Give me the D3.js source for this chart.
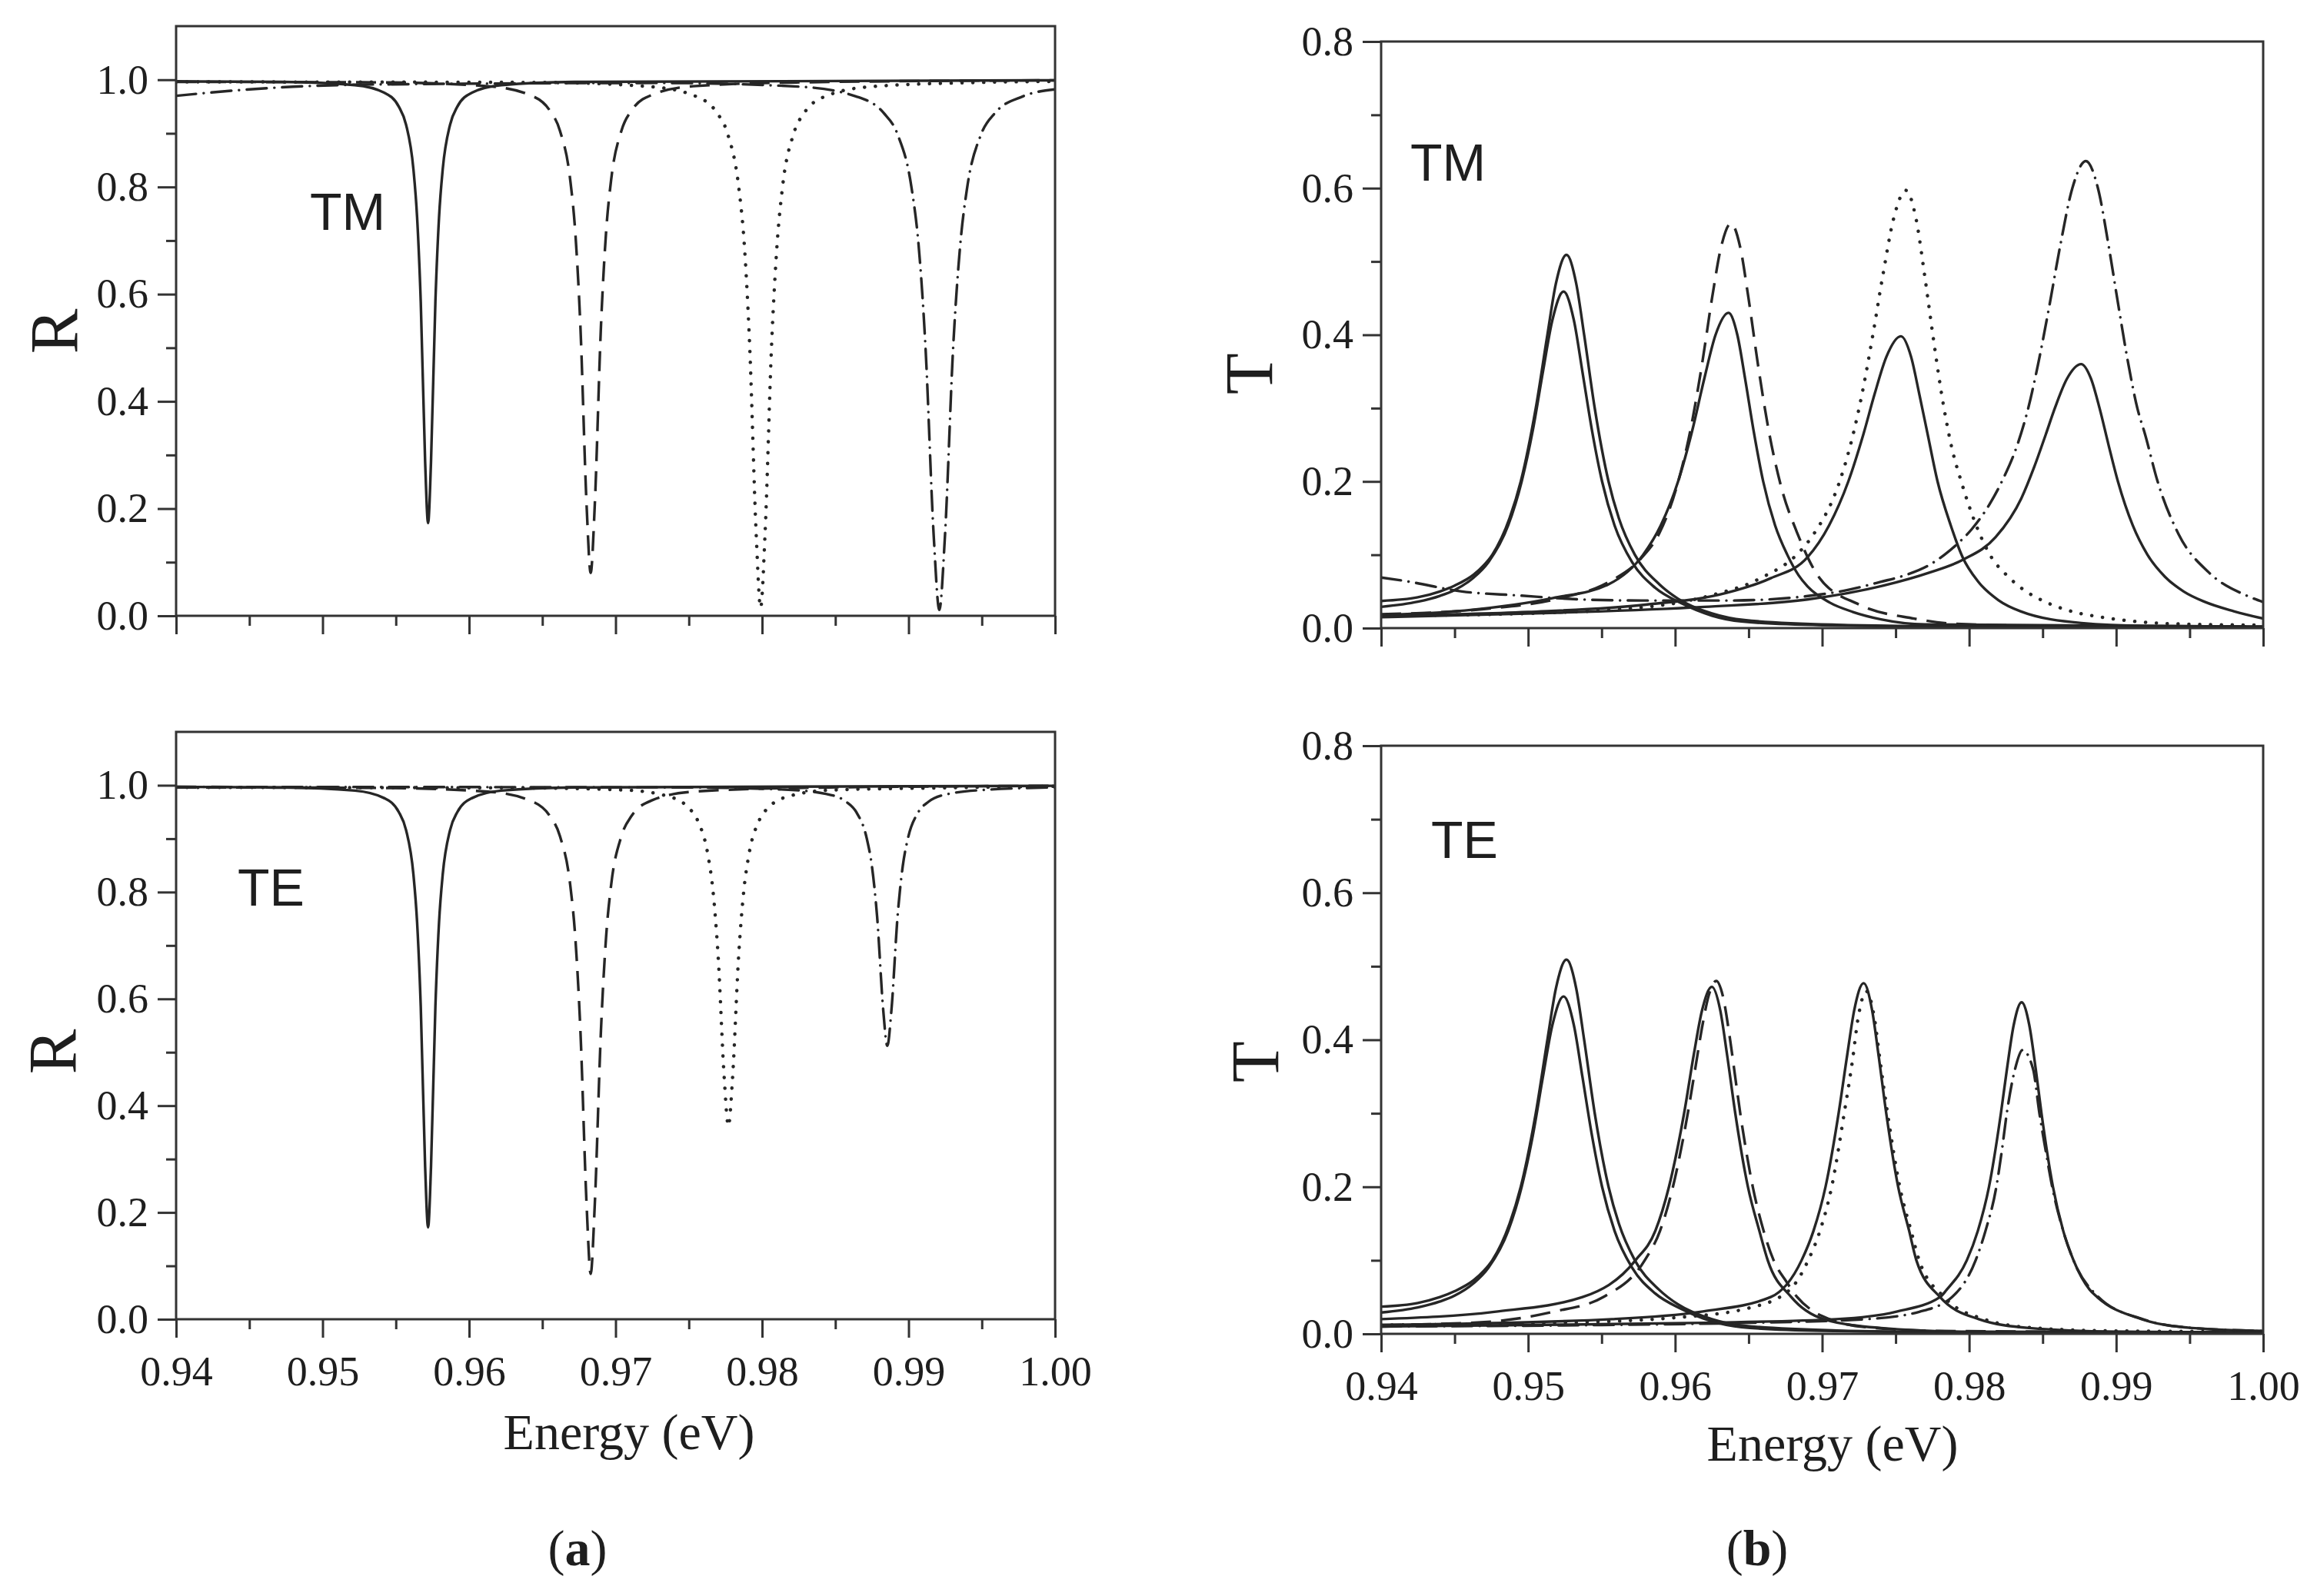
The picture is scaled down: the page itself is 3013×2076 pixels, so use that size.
<!DOCTYPE html>
<html>
<head>
<meta charset="utf-8">
<script src="https://cdnjs.cloudflare.com/ajax/libs/d3/7.8.5/d3.min.js"></script>
<style>
    body { margin: 0; background: #fff; }
    svg text { fill: #1e1e1e; }
</style>
</head>
<body>
<svg id="chart" width="3013" height="2076"></svg>
<script>
// ---- axis ticks ----
const energyTicks = [0.94, 0.95, 0.96, 0.97, 0.98, 0.99, 1.00];
const energyMinor = [0.945, 0.955, 0.965, 0.975, 0.985, 0.995];
const rTicks = [0, 0.2, 0.4, 0.6, 0.8, 1.0];
const rMinor = [0.1, 0.3, 0.5, 0.7, 0.9];
const tTicks = [0, 0.2, 0.4, 0.6, 0.8];
const tMinor = [0.1, 0.3, 0.5, 0.7];

// ---- (a) reflectance, TM ----  [energy eV, R]
const tmR_solid = [[0.940,0.997],[0.9472,0.996],[0.9522,0.990],[0.9542,0.976],[0.9552,0.950],[0.9557,0.916],[0.9562,0.833],[0.95645,0.744],[0.9567,0.586],[0.9570,0.287],[0.9572,0.173],[0.9574,0.287],[0.9577,0.586],[0.95795,0.744],[0.9582,0.833],[0.9587,0.916],[0.9592,0.950],[0.9602,0.976],[0.9622,0.990],[0.9672,0.996],[1.000,0.999]];
const tmR_dashed = [[0.940,0.996],[0.9543,0.995],[0.9613,0.988],[0.9641,0.972],[0.9655,0.943],[0.9662,0.905],[0.9669,0.814],[0.96725,0.715],[0.9676,0.539],[0.96802,0.207],[0.9683,0.080],[0.96858,0.207],[0.9690,0.539],[0.96935,0.715],[0.9697,0.814],[0.9704,0.905],[0.9711,0.943],[0.9725,0.972],[0.9753,0.988],[0.9823,0.995],[1.000,0.999]];
const tmR_dotted = [[0.940,0.996],[0.9649,0.995],[0.9724,0.987],[0.9754,0.970],[0.9769,0.939],[0.97765,0.899],[0.9784,0.801],[0.97878,0.695],[0.97915,0.506],[0.9796,0.151],[0.9799,0.015],[0.9802,0.151],[0.98065,0.506],[0.98103,0.695],[0.9814,0.801],[0.98215,0.899],[0.9829,0.939],[0.9844,0.970],[0.9874,0.987],[0.9949,0.995],[1.000,0.997]];
const tmR_dashdot = [[0.940,0.970],[0.944,0.980],[0.948,0.987],[0.953,0.991],[0.9731,0.994],[0.9826,0.987],[0.9864,0.969],[0.9883,0.938],[0.98925,0.898],[0.9902,0.799],[0.99068,0.693],[0.99115,0.504],[0.99172,0.147],[0.9921,0.011],[0.99248,0.147],[0.99305,0.504],[0.99353,0.693],[0.9940,0.799],[0.99495,0.898],[0.9959,0.938],[0.9978,0.969],[1.000,0.982]];

// ---- (a) reflectance, TE ----
const teR_solid = [[0.940,0.997],[0.9472,0.996],[0.9522,0.990],[0.9542,0.976],[0.9552,0.950],[0.9557,0.916],[0.9562,0.833],[0.95645,0.744],[0.9567,0.586],[0.9570,0.285],[0.9572,0.172],[0.9574,0.285],[0.9577,0.586],[0.95795,0.744],[0.9582,0.833],[0.9587,0.916],[0.9592,0.950],[0.9602,0.976],[0.9622,0.990],[0.9672,0.996],[1.000,0.999]];
const teR_dashed = [[0.940,0.996],[0.9543,0.995],[0.9613,0.988],[0.9641,0.972],[0.9655,0.943],[0.9662,0.905],[0.9669,0.814],[0.96725,0.715],[0.9676,0.540],[0.96802,0.215],[0.9683,0.085],[0.96858,0.215],[0.9690,0.540],[0.96935,0.715],[0.9697,0.814],[0.9704,0.905],[0.9711,0.943],[0.9725,0.972],[0.9753,0.988],[0.9823,0.995],[1.000,0.999]];
const teR_dotted = [[0.940,0.996],[0.9637,0.995],[0.9707,0.991],[0.9735,0.980],[0.9749,0.960],[0.9756,0.934],[0.9763,0.870],[0.97665,0.802],[0.9770,0.680],[0.97742,0.450],[0.9777,0.362],[0.97798,0.450],[0.9784,0.680],[0.97875,0.802],[0.9791,0.870],[0.9798,0.934],[0.9805,0.960],[0.9819,0.980],[0.9847,0.991],[0.9917,0.995],[1.000,0.998]];
const teR_dashdot = [[0.940,0.997],[0.97455,0.996],[0.98155,0.992],[0.98435,0.984],[0.98575,0.969],[0.98645,0.949],[0.98715,0.900],[0.9875,0.848],[0.98785,0.755],[0.98827,0.579],[0.98855,0.512],[0.98883,0.579],[0.98925,0.755],[0.9896,0.848],[0.98995,0.900],[0.99065,0.949],[0.99135,0.969],[0.99275,0.984],[0.99555,0.992],[1.000,0.996]];

// ---- (b) transmission, first resonance (same in TM and TE) ---- [energy eV, T]
const peak1_outer = [[0.9400,0.037],[0.9425,0.042],[0.9440,0.050],[0.9450,0.058],[0.9463,0.073],[0.9470,0.086],[0.94756,0.100],[0.94874,0.150],[0.9495,0.200],[0.95052,0.300],[0.95131,0.400],[0.95189,0.470],[0.95261,0.509],[0.95327,0.470],[0.95381,0.400],[0.95453,0.300],[0.95547,0.200],[0.95617,0.150],[0.95726,0.100],[0.95891,0.060],[0.9602,0.040],[0.9625,0.020],[0.9647,0.011],[0.9710,0.0045],[0.9800,0.002],[1.0000,0.001]];
const peak1_inner = [[0.9400,0.029],[0.9425,0.036],[0.9440,0.044],[0.9450,0.052],[0.9463,0.069],[0.9473,0.090],[0.94864,0.140],[0.94956,0.200],[0.95032,0.270],[0.95101,0.350],[0.95165,0.420],[0.95241,0.459],[0.95311,0.420],[0.95369,0.350],[0.95434,0.270],[0.95503,0.200],[0.95588,0.140],[0.95707,0.090],[0.95864,0.055],[0.96041,0.034],[0.9625,0.017],[0.9645,0.009],[0.9700,0.004],[0.9800,0.002],[1.0000,0.001]];

// ---- (b) transmission, TM ----
const tmT_dashed = [[0.9400,0.019],[0.9470,0.026],[0.9520,0.040],[0.9555,0.063],[0.95768,0.095],[0.95894,0.130],[0.96007,0.190],[0.96104,0.270],[0.96183,0.360],[0.96251,0.450],[0.96313,0.520],[0.9638,0.552],[0.96442,0.520],[0.96499,0.450],[0.96563,0.360],[0.96636,0.270],[0.96725,0.190],[0.9683,0.130],[0.9698,0.069],[0.97252,0.032],[0.97625,0.013],[0.97894,0.006],[0.9850,0.003],[1.0000,0.002]];
const tmT_solid2 = [[0.9400,0.018],[0.9457,0.024],[0.9517,0.041],[0.9555,0.060],[0.95782,0.100],[0.95902,0.140],[0.9602,0.200],[0.96117,0.270],[0.96198,0.340],[0.96275,0.400],[0.96363,0.430],[0.96423,0.400],[0.96476,0.340],[0.96533,0.270],[0.96599,0.200],[0.9668,0.140],[0.96763,0.100],[0.9684,0.072],[0.9690,0.057],[0.9705,0.035],[0.9721,0.022],[0.9740,0.012],[0.9770,0.005],[1.0000,0.002]];
const tmT_dotted = [[0.9400,0.017],[0.9500,0.020],[0.9590,0.031],[0.9625,0.045],[0.9657,0.067],[0.9686,0.107],[0.96942,0.128],[0.97119,0.200],[0.97193,0.250],[0.97272,0.320],[0.97345,0.400],[0.97412,0.480],[0.97488,0.560],[0.9757,0.597],[0.97637,0.560],[0.97698,0.480],[0.97753,0.400],[0.97812,0.320],[0.97883,0.245],[0.97946,0.200],[0.98152,0.0965],[0.98256,0.072],[0.9838,0.051],[0.98504,0.037],[0.98628,0.027],[0.98753,0.020],[0.98877,0.0157],[0.99115,0.0094],[0.99363,0.006],[1.0000,0.004]];
const tmT_solid3 = [[0.9400,0.017],[0.9500,0.022],[0.9580,0.032],[0.9635,0.048],[0.9665,0.068],[0.9690,0.0965],[0.97047,0.140],[0.97178,0.200],[0.9728,0.264],[0.97358,0.320],[0.97437,0.370],[0.97536,0.398],[0.97605,0.370],[0.9766,0.320],[0.97718,0.264],[0.97785,0.200],[0.97875,0.140],[0.97956,0.0965],[0.98059,0.064],[0.9820,0.038],[0.98349,0.023],[0.98763,0.007],[0.9920,0.003],[1.0000,0.002]];
const tmT_dashdot = [[0.9400,0.069],[0.9417,0.064],[0.9455,0.050],[0.9493,0.0446],[0.9537,0.039],[0.9577,0.0376],[0.9637,0.0376],[0.9687,0.043],[0.97149,0.051],[0.97397,0.063],[0.97563,0.072],[0.97728,0.086],[0.97832,0.100],[0.97915,0.114],[0.98018,0.135],[0.98142,0.170],[0.98225,0.201],[0.98328,0.250],[0.98402,0.300],[0.98469,0.360],[0.98546,0.440],[0.98618,0.520],[0.98702,0.600],[0.98794,0.637],[0.98876,0.600],[0.9895,0.520],[0.99015,0.440],[0.99083,0.360],[0.99144,0.300],[0.99197,0.264],[0.99282,0.200],[0.99425,0.128],[0.99632,0.0756],[0.99891,0.044],[1.0000,0.0355]];
const tmT_solid4 = [[0.9400,0.015],[0.9520,0.021],[0.9620,0.029],[0.9690,0.039],[0.97418,0.058],[0.97728,0.0756],[0.97956,0.093],[0.9818,0.124],[0.98355,0.177],[0.98443,0.220],[0.98521,0.264],[0.98583,0.300],[0.98665,0.340],[0.98762,0.360],[0.98829,0.340],[0.98887,0.300],[0.98948,0.250],[0.99012,0.200],[0.99113,0.140],[0.99213,0.100],[0.99332,0.070],[0.99459,0.050],[0.9960,0.036],[0.9980,0.023],[1.0000,0.013]];

// ---- (b) transmission, TE ----
const teT_solid2 = [[0.9400,0.020],[0.9477,0.030],[0.9537,0.050],[0.9573,0.100],[0.95865,0.140],[0.95958,0.200],[0.96061,0.300],[0.96127,0.380],[0.96183,0.440],[0.9625,0.472],[0.96307,0.440],[0.96353,0.380],[0.96409,0.300],[0.96495,0.200],[0.96573,0.140],[0.9663,0.100],[0.9679,0.050],[0.9701,0.020],[0.9740,0.008],[0.9800,0.003],[1.0000,0.002]];
const teT_dashed = [[0.9400,0.012],[0.9470,0.016],[0.9517,0.030],[0.9551,0.050],[0.95793,0.100],[0.95897,0.140],[0.95985,0.200],[0.96086,0.300],[0.96136,0.360],[0.96186,0.420],[0.96228,0.460],[0.9628,0.480],[0.96324,0.460],[0.96374,0.400],[0.96415,0.340],[0.96443,0.300],[0.96528,0.200],[0.96602,0.140],[0.9667,0.100],[0.9676,0.070],[0.9683,0.050],[0.9693,0.032],[0.9705,0.020],[0.9730,0.009],[0.9780,0.004],[1.0000,0.002]];
const teT_solid3 = [[0.9400,0.012],[0.9557,0.020],[0.9617,0.030],[0.9665,0.050],[0.9686,0.100],[0.96941,0.140],[0.97023,0.200],[0.97112,0.300],[0.97171,0.380],[0.97218,0.440],[0.97282,0.477],[0.9734,0.440],[0.97383,0.380],[0.97436,0.300],[0.97517,0.200],[0.97592,0.140],[0.97641,0.100],[0.97802,0.050],[0.98065,0.020],[0.98407,0.008],[0.9900,0.003],[1.0000,0.002]];
const teT_dotted = [[0.9400,0.012],[0.9520,0.015],[0.9600,0.022],[0.9650,0.035],[0.9678,0.060],[0.96905,0.100],[0.96985,0.140],[0.97065,0.200],[0.9715,0.300],[0.97205,0.370],[0.97245,0.430],[0.9730,0.466],[0.97355,0.430],[0.97395,0.370],[0.97445,0.300],[0.97528,0.200],[0.97605,0.140],[0.9766,0.100],[0.9783,0.050],[0.9810,0.020],[0.9845,0.008],[0.9900,0.004],[1.0000,0.003]];
const teT_solid4 = [[0.9400,0.010],[0.9500,0.012],[0.9620,0.015],[0.97097,0.020],[0.9750,0.030],[0.97802,0.050],[0.97847,0.060],[0.97984,0.100],[0.98059,0.140],[0.98135,0.200],[0.98216,0.300],[0.98257,0.360],[0.98303,0.420],[0.98357,0.451],[0.98409,0.420],[0.98453,0.360],[0.98492,0.300],[0.9857,0.200],[0.9864,0.140],[0.9871,0.100],[0.9882,0.060],[0.98871,0.050],[0.99173,0.020],[0.99516,0.008],[1.0000,0.004]];
const teT_dashdot = [[0.9400,0.010],[0.9550,0.012],[0.9650,0.015],[0.97298,0.020],[0.97661,0.030],[0.97883,0.050],[0.98044,0.100],[0.98111,0.140],[0.98185,0.200],[0.98223,0.250],[0.98256,0.300],[0.98312,0.360],[0.98363,0.386],[0.98435,0.360],[0.98478,0.300],[0.9852,0.250],[0.98565,0.200],[0.9864,0.140],[0.9871,0.100],[0.9888,0.050],[0.9918,0.020],[0.9952,0.008],[1.0000,0.004]];

// line styles: dash pattern per curve type
const dashFor = {
    solid: null,
    dashed: "26,13",
    dotted: "0.1,14",
    dashdot: "26,10,0.1,10"
};

// panel layout (pixel frames of the four plots)
const panels = [
    { left: 229, right: 1372, top: 34, bottom: 801, yMax: 1.1, yTicks: rTicks, yMinor: rMinor,
      series: [[tmR_solid, "solid"], [tmR_dashed, "dashed"], [tmR_dotted, "dotted"], [tmR_dashdot, "dashdot"]],
      tag: "TM", tagX: 403, tagY: 299, title: "R", titleX: 100, titleY: 431, xLabels: false },
    { left: 229, right: 1372, top: 952, bottom: 1716, yMax: 1.1, yTicks: rTicks, yMinor: rMinor,
      series: [[teR_solid, "solid"], [teR_dashed, "dashed"], [teR_dotted, "dotted"], [teR_dashdot, "dashdot"]],
      tag: "TE", tagX: 309, tagY: 1178, title: "R", titleX: 98, titleY: 1368, xLabels: true, xTitleX: 818, xTitleY: 1885 },
    { left: 1796, right: 2943, top: 54, bottom: 817, yMax: 0.8, yTicks: tTicks, yMinor: tMinor,
      series: [[peak1_outer, "solid"], [peak1_inner, "solid"], [tmT_solid2, "solid"], [tmT_solid3, "solid"], [tmT_solid4, "solid"],
               [tmT_dashed, "dashed"], [tmT_dotted, "dotted"], [tmT_dashdot, "dashdot"]],
      tag: "TM", tagX: 1834, tagY: 235, title: "T", titleX: 1654, titleY: 486, xLabels: false },
    { left: 1796, right: 2943, top: 970, bottom: 1735, yMax: 0.8, yTicks: tTicks, yMinor: tMinor,
      series: [[peak1_outer, "solid"], [peak1_inner, "solid"], [teT_solid2, "solid"], [teT_solid3, "solid"], [teT_solid4, "solid"],
               [teT_dashed, "dashed"], [teT_dotted, "dotted"], [teT_dashdot, "dashdot"]],
      tag: "TE", tagX: 1861, tagY: 1116, title: "T", titleX: 1662, titleY: 1381, xLabels: true, xTitleX: 2383, xTitleY: 1900 }
];

const svg = d3.select("#chart");
const serif = "'Liberation Serif', 'Times New Roman', serif";
const sans = "'Liberation Sans', Arial, sans-serif";

panels.forEach((p, i) => {
    const x = d3.scaleLinear().domain([0.94, 1.00]).range([p.left, p.right]);
    const y = d3.scaleLinear().domain([0, p.yMax]).range([p.bottom, p.top]);

    svg.append("clipPath").attr("id", "clip" + i)
        .append("rect")
        .attr("x", p.left).attr("y", p.top)
        .attr("width", p.right - p.left).attr("height", p.bottom - p.top);

    const line = d3.line()
        .x(d => x(d[0]))
        .y(d => y(d[1]))
        .curve(d3.curveMonotoneX);

    const g = svg.append("g").attr("clip-path", `url(#clip${i})`);
    p.series.forEach(([data, kind]) => {
        g.append("path")
            .datum(data)
            .attr("d", line)
            .attr("fill", "none")
            .attr("stroke", "#262626")
            .attr("stroke-width", kind === "dotted" ? 4.5 : 3.4)
            .attr("stroke-linecap", kind === "solid" || kind === "dashed" ? "butt" : "round")
            .attr("stroke-dasharray", dashFor[kind]);
    });

    // minor and major ticks, bottom axis
    const xMinor = svg.append("g").attr("transform", `translate(0,${p.bottom})`)
        .call(d3.axisBottom(x).tickValues(energyMinor).tickSize(13).tickFormat(""));
    const xMajor = svg.append("g").attr("transform", `translate(0,${p.bottom})`)
        .call(d3.axisBottom(x).tickValues(energyTicks).tickSize(24).tickPadding(24)
            .tickFormat(p.xLabels ? d3.format(".2f") : ""));

    // minor and major ticks, left axis
    const yMinorAxis = svg.append("g").attr("transform", `translate(${p.left},0)`)
        .call(d3.axisLeft(y).tickValues(p.yMinor).tickSize(13).tickFormat(""));
    const yMajor = svg.append("g").attr("transform", `translate(${p.left},0)`)
        .call(d3.axisLeft(y).tickValues(p.yTicks).tickSize(24).tickPadding(12).tickFormat(d3.format(".1f")));

    [xMinor, xMajor, yMinorAxis, yMajor].forEach(a => {
        a.select(".domain").remove();
        a.selectAll("line").attr("stroke", "#333").attr("stroke-width", 3);
        a.selectAll("text").attr("font-family", serif).attr("font-size", 54).attr("fill", "#1e1e1e");
    });

    // frame
    svg.append("rect")
        .attr("x", p.left).attr("y", p.top)
        .attr("width", p.right - p.left).attr("height", p.bottom - p.top)
        .attr("fill", "none").attr("stroke", "#333").attr("stroke-width", 3);

    // polarisation tag
    svg.append("text")
        .attr("x", p.tagX).attr("y", p.tagY)
        .attr("font-family", sans).attr("font-size", 68)
        .text(p.tag);

    // y title
    svg.append("text")
        .attr("transform", `translate(${p.titleX},${p.titleY}) rotate(-90)`)
        .attr("text-anchor", "middle")
        .attr("font-family", serif).attr("font-size", 88)
        .text(p.title);

    if (p.xLabels) {
        svg.append("text")
            .attr("x", p.xTitleX).attr("y", p.xTitleY)
            .attr("text-anchor", "middle")
            .attr("font-family", serif).attr("font-size", 66)
            .text("Energy (eV)");
    }
});

// subfigure captions
[["a", 751], ["b", 2285]].forEach(([letter, cx]) => {
    const t = svg.append("text")
        .attr("x", cx).attr("y", 2036)
        .attr("text-anchor", "middle")
        .attr("font-family", serif).attr("font-size", 66);
    t.append("tspan").text("(");
    t.append("tspan").attr("font-weight", "bold").text(letter);
    t.append("tspan").text(")");
});
</script>
</body>
</html>
